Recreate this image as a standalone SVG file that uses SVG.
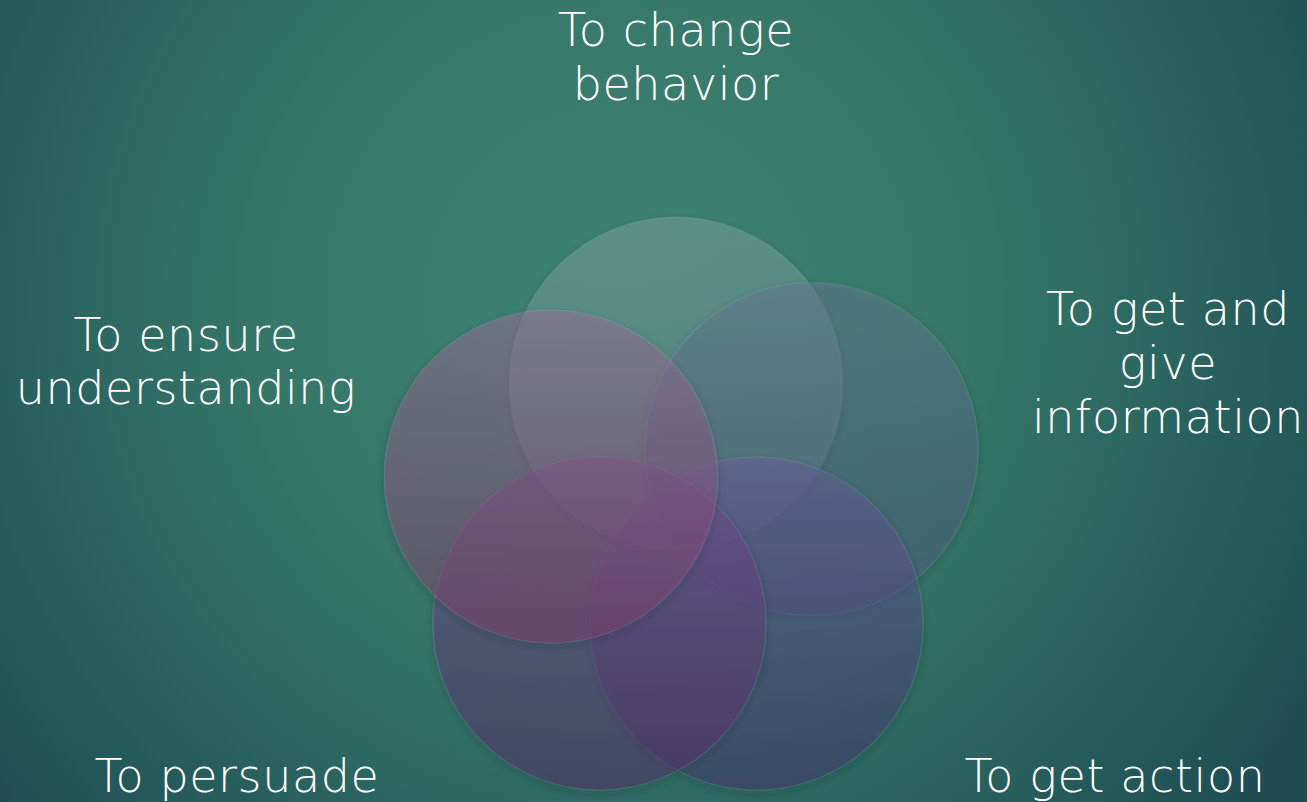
<svg xmlns="http://www.w3.org/2000/svg" width="1307" height="802" viewBox="0 0 1307 802">
  <defs>
    <radialGradient id="bg" gradientUnits="userSpaceOnUse" cx="620" cy="300" r="820">
      <stop offset="0" stop-color="#3f8373"/>
      <stop offset="0.45" stop-color="#357668"/>
      <stop offset="1" stop-color="#1d4c53"/>
    </radialGradient>
    <linearGradient id="gTop" x1="0" y1="0" x2="0" y2="1">
      <stop offset="0" stop-color="#7aa39e"/>
      <stop offset="1" stop-color="#64878b"/>
    </linearGradient>
    <linearGradient id="gRight" x1="0" y1="0" x2="0" y2="1">
      <stop offset="0" stop-color="#637890"/>
      <stop offset="1" stop-color="#4a5677"/>
    </linearGradient>
    <linearGradient id="gBR" x1="0" y1="0" x2="0" y2="1">
      <stop offset="0" stop-color="#65609a"/>
      <stop offset="1" stop-color="#452f6a"/>
    </linearGradient>
    <linearGradient id="gBL" x1="0" y1="0" x2="0" y2="1">
      <stop offset="0" stop-color="#744f8e"/>
      <stop offset="1" stop-color="#552a67"/>
    </linearGradient>
    <linearGradient id="gLeft" x1="0" y1="0" x2="0" y2="1">
      <stop offset="0" stop-color="#9a6f99"/>
      <stop offset="1" stop-color="#7b3d6a"/>
    </linearGradient>
    <!-- soft shadow that falls only outside each disc -->
    <filter id="shade" x="-20%" y="-20%" width="140%" height="140%">
      <feGaussianBlur in="SourceAlpha" stdDeviation="4" result="b"/>
      <feOffset in="b" dy="3" result="o"/>
      <feComposite in="o" in2="SourceAlpha" operator="out" result="outside"/>
      <feFlood flood-color="#0a2a2a" flood-opacity="0.45"/>
      <feComposite in2="outside" operator="in" result="sh"/>
      <feMerge>
        <feMergeNode in="sh"/>
        <feMergeNode in="SourceGraphic"/>
      </feMerge>
    </filter>
  </defs>
  <style>
    .disc { fill-opacity: 0.5; stroke: #ffffff; stroke-opacity: 0.08; stroke-width: 1.2; }
    .lbl { font-family: "DejaVu Sans", "Liberation Sans", sans-serif; font-weight: 200; font-size: 46px; fill: #ffffff; text-anchor: middle; letter-spacing: 0.6px; }
  </style>

  <rect width="1307" height="802" fill="url(#bg)"/>

  <g id="venn">
    <g id="circle-behavior" filter="url(#shade)">
      <circle class="disc" cx="676" cy="383.5" r="166.5" fill="url(#gTop)"/>
    </g>
    <g id="circle-information" filter="url(#shade)">
      <circle class="disc" cx="811.5" cy="449" r="166.5" fill="url(#gRight)"/>
    </g>
    <g id="circle-action" filter="url(#shade)">
      <circle class="disc" cx="756.5" cy="623.5" r="166.5" fill="url(#gBR)"/>
    </g>
    <g id="circle-persuade" filter="url(#shade)">
      <circle class="disc" cx="599.5" cy="623.5" r="166.5" fill="url(#gBL)"/>
    </g>
    <g id="circle-understanding" filter="url(#shade)">
      <circle class="disc" cx="551" cy="476.5" r="166.5" fill="url(#gLeft)"/>
    </g>
  </g>

  <g id="label-behavior">
    <text class="lbl" x="676" y="46">To change</text>
    <text class="lbl" x="676" y="100">behavior</text>
  </g>
  <g id="label-information">
    <text class="lbl" x="1168" y="325">To get and</text>
    <text class="lbl" x="1168" y="379">give</text>
    <text class="lbl" x="1168" y="433">information</text>
  </g>
  <g id="label-action">
    <text class="lbl" x="1115" y="792">To get action</text>
  </g>
  <g id="label-persuade">
    <text class="lbl" x="237" y="792">To persuade</text>
  </g>
  <g id="label-understanding">
    <text class="lbl" x="186" y="351">To ensure</text>
    <text class="lbl" x="186" y="404">understanding</text>
  </g>
  <g id="connectors"/>
</svg>
